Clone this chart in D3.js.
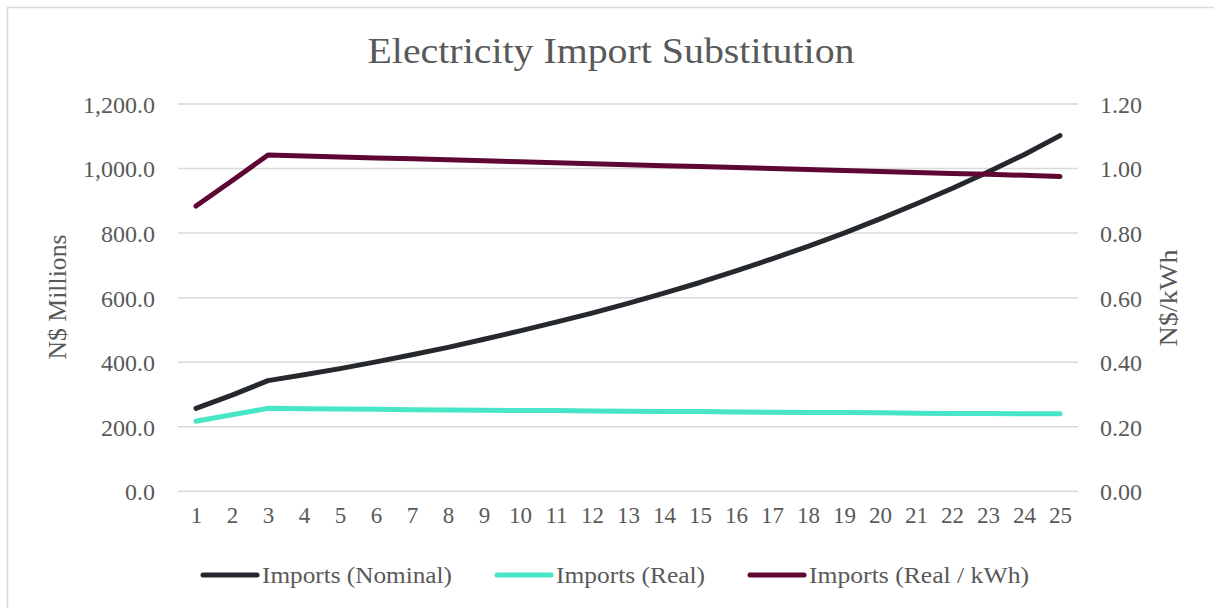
<!DOCTYPE html>
<html><head><meta charset="utf-8">
<script src="https://cdn.jsdelivr.net/npm/d3@7/dist/d3.min.js"></script>
<style>
html,body{margin:0;padding:0;background:#fff;}
text{font-family:"Liberation Serif","DejaVu Serif",serif;fill:#595959;}
</style></head>
<body><svg id="c" width="1214" height="608"></svg>
<script>
const categories = ["1","2","3","4","5","6","7","8","9","10","11","12","13","14","15","16","17","18","19","20","21","22","23","24","25"];
const nominal = [257, 298, 343, 361, 380, 401, 423, 446, 471, 497, 524, 552, 582, 614, 647, 683, 720, 759, 800, 844, 890, 938, 989, 1043, 1102];
const real = [217, 237, 257, 256, 255, 254, 253, 252, 251, 250, 250, 249, 248, 247, 247, 246, 245, 244, 244, 243, 242, 241, 241, 240, 240];
const realKwh = [0.884, 0.962, 1.042, 1.039, 1.036, 1.033, 1.030, 1.027, 1.024, 1.021, 1.018, 1.015, 1.012, 1.009, 1.006, 1.003, 1.000, 0.997, 0.994, 0.991, 0.988, 0.985, 0.982, 0.979, 0.975];
const leftTicks = [0, 200, 400, 600, 800, 1000, 1200];
const rightTicks = [0, 0.2, 0.4, 0.6, 0.8, 1.0, 1.2];
const seriesNames = ["Imports (Nominal)", "Imports (Real)", "Imports (Real / kWh)"];
const colors = ["#25292e", "#47e6c6", "#5e0734"];

const svg = d3.select("#c");
svg.append("rect").attr("x",7.5).attr("y",7.5).attr("width",1220).attr("height",620)
  .attr("fill","none").attr("stroke","#d9d9d9").attr("stroke-width",1.5);

const x = d3.scalePoint().domain(categories).range([178,1078]).padding(0.5);
const yL = d3.scaleLinear().domain([0,1200]).range([491.3,104]);
const yR = d3.scaleLinear().domain([0,1.2]).range([491.3,104]);

// gridlines
svg.append("g").selectAll("line").data(leftTicks).join("line")
  .attr("x1",178).attr("x2",1078).attr("y1",d=>yL(d)).attr("y2",d=>yL(d))
  .attr("stroke","#d9d9d9").attr("stroke-width",1.5);

// left axis
const gL = svg.append("g").attr("transform","translate(155,0)")
  .call(d3.axisLeft(yL).tickValues(leftTicks).tickFormat(d3.format(",.1f")).tickSize(0).tickPadding(0));
gL.select(".domain").remove();
gL.selectAll("text").attr("font-size",24).attr("dy","0.35em");

// right axis
const gR = svg.append("g").attr("transform","translate(1100,0)")
  .call(d3.axisRight(yR).tickValues(rightTicks).tickFormat(d3.format(".2f")).tickSize(0).tickPadding(0));
gR.select(".domain").remove();
gR.selectAll("text").attr("font-size",24).attr("dy","0.35em");

// x axis
const gX = svg.append("g").attr("transform","translate(0,507)")
  .call(d3.axisBottom(x).tickSize(0).tickPadding(0));
gX.select(".domain").remove();
gX.selectAll("text").attr("font-size",23).attr("dy","0.71em");
svg.selectAll(".tick text").attr("fill","#595959").style("font-family","'Liberation Serif','DejaVu Serif',serif");

// title
svg.append("text").attr("x",611).attr("y",63).attr("text-anchor","middle")
  .attr("font-size",35).attr("textLength",487).attr("lengthAdjust","spacingAndGlyphs")
  .text("Electricity Import Substitution");

// axis titles
svg.append("text").attr("transform","translate(66,297) rotate(-90)").attr("text-anchor","middle")
  .attr("font-size",25).attr("textLength",125).attr("lengthAdjust","spacingAndGlyphs").text("N$ Millions");
svg.append("text").attr("transform","translate(1177,298) rotate(-90)").attr("text-anchor","middle")
  .attr("font-size",25).attr("textLength",97).attr("lengthAdjust","spacingAndGlyphs").text("N$/kWh");

// lines
const line = (ys) => d3.line().x((d,i)=>x(categories[i])).y(d=>ys(d));
const data = [[nominal,yL],[real,yL],[realKwh,yR]];
data.forEach(([vals,ys],k)=>{
  svg.append("path").datum(vals).attr("d",line(ys)).attr("fill","none")
    .attr("stroke",colors[k]).attr("stroke-width",5).attr("stroke-linecap","round").attr("stroke-linejoin","round");
});

// legend
const legX = [203, 497, 750];
const legW = [190, 149, 220];
seriesNames.forEach((n,k)=>{
  svg.append("line").attr("x1",legX[k]).attr("x2",legX[k]+54).attr("y1",575).attr("y2",575)
    .attr("stroke",colors[k]).attr("stroke-width",5).attr("stroke-linecap","round");
  svg.append("text").attr("x",legX[k]+59).attr("y",583).attr("font-size",23)
    .attr("textLength",legW[k]).attr("lengthAdjust","spacingAndGlyphs").text(n);
});
</script></body></html>
